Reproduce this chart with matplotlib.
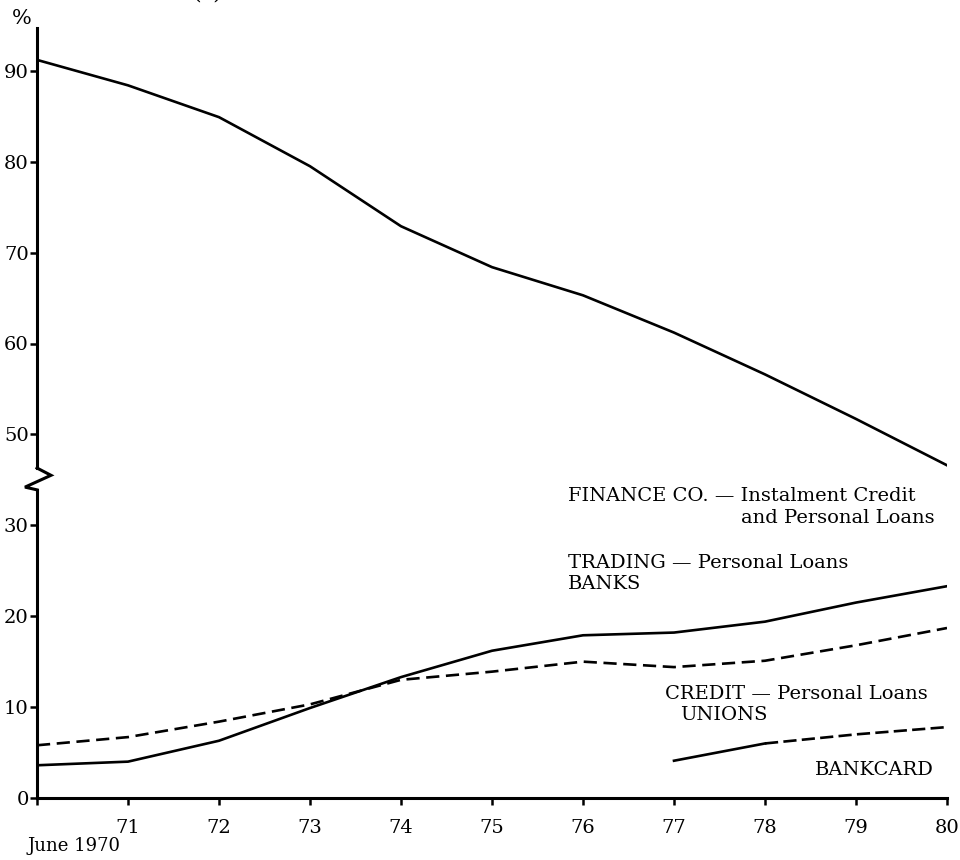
import matplotlib
matplotlib.use("Agg")
import matplotlib.pyplot as plt
import numpy as np

# ---- data ----
years = [1970, 1971, 1972, 1973, 1974, 1975, 1976, 1977, 1978, 1979, 1980]
x_tick_labels = ["", "71", "72", "73", "74", "75", "76", "77", "78", "79", "80"]

finance_co = [91.2, 88.4, 84.9, 79.5, 72.9, 68.4, 65.3, 61.2, 56.6, 51.7, 46.6]
trading_banks = [3.6, 4.0, 6.3, 9.9, 13.3, 16.2, 17.9, 18.2, 19.4, 21.5, 23.3]
credit_unions = [5.8, 6.7, 8.4, 10.3, 13.0, 13.9, 15.0, 14.4, 15.1, 16.8, 18.7]
bankcard_years = [1977, 1978, 1979, 1980]
bankcard = [4.1, 6.0, 7.0, 7.8]

# broken axis: values above the break are shifted down by this amount
break_shift = 10
y_tick_values = [0, 10, 20, 30, 50, 60, 70, 80, 90]

def plotted(v):
    v = np.asarray(v, dtype=float)
    return np.where(v > 35, v - break_shift, v)

plt.rcParams['font.family'] = ['DejaVu Serif']

fig = plt.figure(figsize=(9.6, 8.6), dpi=100)
W, H = 960, 860
x0_px, x1_px, y0_px, ytop_px = 37, 947, 798, 28
ax = fig.add_axes([x0_px / W, 1 - y0_px / H, (x1_px - x0_px) / W, (y0_px - ytop_px) / H])
px_per_unit = 90.9 / 10
ax.set_xlim(1970, 1980)
ax.set_ylim(0, (y0_px - ytop_px) / px_per_unit)

lw = 1.9
ax.plot(years, plotted(finance_co), color='black', lw=lw, solid_joinstyle='round')
ax.plot(years, plotted(trading_banks), color='black', lw=lw, solid_joinstyle='round')
ax.plot(years, plotted(credit_unions), color='black', lw=lw, ls=(0, (5, 2.5)))
ax.plot(bankcard_years[:2], bankcard[:2], color='black', lw=lw)
ax.plot(bankcard_years[1:], bankcard[1:], color='black', lw=lw, ls=(0, (5, 2)))

# spines
for s in ['top', 'right', 'left']:
    ax.spines[s].set_visible(False)
ax.spines['bottom'].set_linewidth(2.2)

# left axis with zig-zag break
ppx = 1 / 91.0  # one pixel in x data units
lo_break, hi_break = plotted(33.9), 36.3
ymax = ax.get_ylim()[1]
axis_kw = dict(color='black', lw=2.2, clip_on=False, solid_joinstyle='miter')
ax.plot([1970, 1970], [0, lo_break], **axis_kw)
ax.plot([1970, 1970 + 14 * ppx, 1970 - 12 * ppx, 1970, 1970],
        [hi_break, hi_break - 0.8, lo_break + 0.3, lo_break, lo_break], **axis_kw)
ax.plot([1970, 1970], [hi_break, ymax], **axis_kw)

ax.set_yticks(plotted(y_tick_values))
ax.set_yticklabels([str(v) for v in y_tick_values])
ax.set_xticks(years)
ax.set_xticklabels(x_tick_labels)
ax.tick_params(axis='y', length=5, width=1.8, pad=1, labelsize=14)
ax.tick_params(axis='x', length=5, width=1.8, pad=10, labelsize=14)

def fx(px):
    return px / W

def fy(py):
    return 1 - py / H

fs = 14
fig.text(fx(22), fy(19), "%", ha='center', va='center', fontsize=15)
fig.text(fx(207), fy(-8), "(c)", ha='center', va='center', fontsize=16)
fig.text(fx(28), fy(846), "June 1970", ha='left', va='center', fontsize=13)

fig.text(fx(568), fy(496), "FINANCE CO. — Instalment Credit", ha='left', va='center', fontsize=fs)
fig.text(fx(935), fy(518), "and Personal Loans", ha='right', va='center', fontsize=fs)
fig.text(fx(568), fy(563), "TRADING — Personal Loans", ha='left', va='center', fontsize=fs)
fig.text(fx(568), fy(584), "BANKS", ha='left', va='center', fontsize=fs)
fig.text(fx(665), fy(694), "CREDIT — Personal Loans", ha='left', va='center', fontsize=fs)
fig.text(fx(680), fy(715), "UNIONS", ha='left', va='center', fontsize=fs)
fig.text(fx(815), fy(770), "BANKCARD", ha='left', va='center', fontsize=fs)

fig.savefig("out.png", dpi=100, facecolor='white')
